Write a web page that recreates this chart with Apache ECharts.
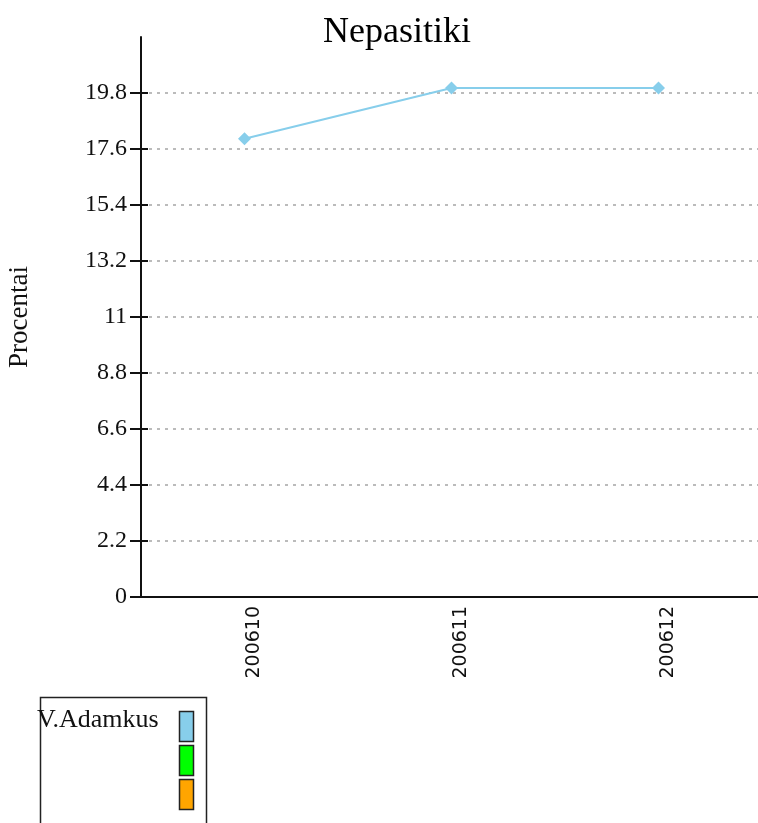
<!DOCTYPE html>
<html>
<head>
<meta charset="utf-8">
<script src="https://cdn.jsdelivr.net/npm/echarts@6/dist/echarts.min.js"></script>
<style>
html,body{margin:0;padding:0;background:#fff;}
#chart{width:758px;height:823px;}
</style>
</head>
<body>
<div id="chart"></div>
<script>
const titleText = 'Nepasitiki';
const yAxisName = 'Procentai';
const categories = ['200610', '200611', '200612'];
const seriesName = 'V.Adamkus';
const seriesValues = [18.0, 20.0, 20.0];
const yTicks = [0, 2.2, 4.4, 6.6, 8.8, 11, 13.2, 15.4, 17.6, 19.8];
const yMax = 22;
const legendColors = ['#87CEEB', '#00FF00', '#FFA500'];

const chart = echarts.init(document.getElementById('chart'));
const serif = 'Liberation Serif';

const swatches = legendColors.map((c, i) => ({
  type: 'rect',
  shape: { x: 179.5, y: 711.5 + i * 34, width: 14, height: 30 },
  style: { fill: c, stroke: '#222', lineWidth: 1.5 }
}));

chart.setOption({
  animation: false,
  backgroundColor: '#fff',
  title: {
    text: titleText,
    left: 323,
    top: 15,
    padding: 0,
    textStyle: { fontFamily: serif, fontSize: 36, fontWeight: 'normal', color: '#000' }
  },
  grid: { left: 141, right: -4, top: 37, bottom: 226, containLabel: false, outerBoundsMode: 'none' },
  xAxis: {
    type: 'category',
    data: categories,
    boundaryGap: true,
    axisLine: { lineStyle: { color: '#111', width: 2 } },
    axisTick: { show: false },
    axisLabel: {
      rotate: 90,
      margin: 9,
      verticalAlign: 'top',
      fontFamily: 'DejaVu Sans',
      fontSize: 19,
      color: '#111'
    },
    splitLine: { show: false }
  },
  yAxis: [
    {
      type: 'value',
      min: 0,
      max: yMax,
      interval: 2.2,
      name: yAxisName,
      nameLocation: 'middle',
      nameRotate: 90,
      nameGap: 108,
      nameTextStyle: { fontFamily: serif, fontSize: 27, color: '#111' },
      axisLine: { show: true, lineStyle: { color: '#111', width: 2 } },
      axisTick: { show: true, length: 11, customValues: yTicks, lineStyle: { color: '#111', width: 2 } },
      axisLabel: {
        customValues: yTicks,
        margin: 14,
        fontFamily: serif,
        fontSize: 24,
        color: '#111',
        formatter: v => String(Math.round(v * 10) / 10)
      },
      splitLine: {
        show: true,
        showMinLine: false,
        showMaxLine: true,
        lineStyle: { color: '#bbb', width: 2, type: [3, 5] }
      }
    },
    {
      type: 'value',
      min: 0,
      max: yMax,
      interval: 2.2,
      position: 'left',
      axisLine: { show: false },
      axisTick: { show: true, inside: true, length: 7, customValues: yTicks, lineStyle: { color: '#111', width: 2 } },
      axisLabel: { show: false },
      splitLine: { show: false }
    }
  ],
  series: [
    {
      name: seriesName,
      type: 'line',
      data: seriesValues,
      yAxisIndex: 0,
      color: legendColors[0],
      symbol: 'diamond',
      symbolSize: [13, 13],
      lineStyle: { width: 2, color: legendColors[0] },
      itemStyle: { color: legendColors[0] }
    }
  ],
  graphic: [
    {
      type: 'rect',
      shape: { x: 40.5, y: 697.5, width: 166, height: 140 },
      style: { fill: '#fff', stroke: '#222', lineWidth: 1.5 },
      z: 1
    },
    {
      type: 'text',
      left: 37,
      top: 707,
      style: { text: seriesName, font: '26px "Liberation Serif"', fill: '#111' },
      z: 2
    }
  ].concat(swatches.map(s => Object.assign({ z: 2 }, s)))
});
</script>
</body>
</html>
